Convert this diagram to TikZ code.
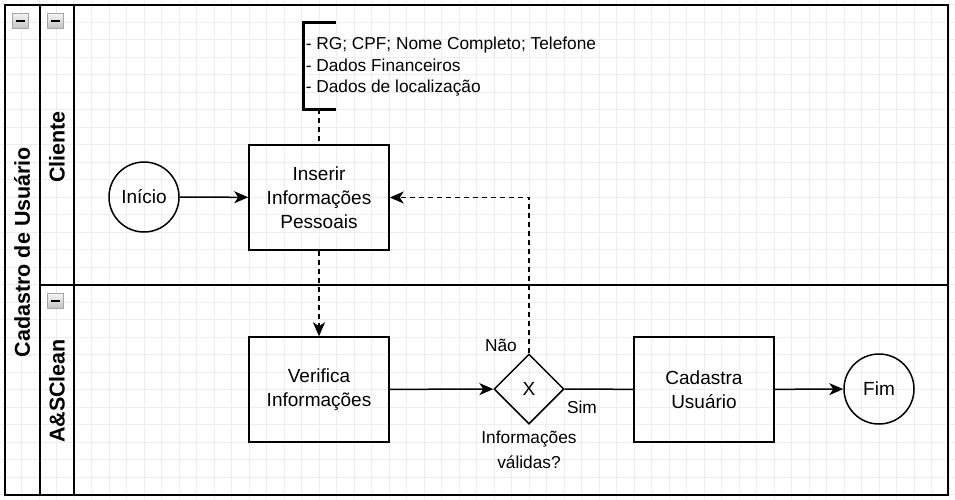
\documentclass[tikz,border=0pt]{standalone}
\usepackage{fontspec}
\setmainfont{Liberation Sans}
\usetikzlibrary{arrows.meta,shapes.geometric}
\newcommand{\collapsebox}[2]{%
  \draw[gray!70,line width=0.8pt,top color=gray!8,bottom color=gray!45]
    (#1-8,#2-7.5) rectangle (#1+8,#2+7.5);
  \draw[line width=2pt] (#1-4.5,#2)--(#1+4.5,#2);}

\begin{document}
\begin{tikzpicture}[x=1pt,y=-1pt,line width=1.5pt,
  every node/.style={font=\fontsize{19}{24}\selectfont},
  task/.style={draw,minimum width=140pt,minimum height=105pt,align=center},
  event/.style={draw,circle,minimum size=70pt,inner sep=0pt},
  gate/.style={draw,diamond,minimum size=70pt,inner sep=0pt},
  flow/.style={-{Stealth[length=14pt,width=12pt,inset=4pt]}},
  msg/.style={flow,dash pattern=on 5pt off 4pt},
  lanelabel/.style={rotate=90,font=\bfseries\fontsize{21.5}{24}\selectfont},
  small/.style={font=\fontsize{17.3}{24.5}\selectfont}]
\useasboundingbox (0,0) rectangle (955,499);
\fill[white] (0,0) rectangle (955,499);
% grid
\foreach \x in {4,21.5,...,955} \draw[gray!13,line width=0.6pt] (\x,0)--(\x,499);
\foreach \y in {4.5,22,...,499} \draw[gray!13,line width=0.6pt] (0,\y)--(955,\y);
% pool and lanes
\draw (5,5) rectangle (948,495);
\draw (40,5)--(40,495) (74,5)--(74,495) (40,285)--(948,285);
\collapsebox{20}{20.5}
\collapsebox{55}{20.5}
\collapsebox{55}{300.5}
\node[lanelabel] (pool) at (22,252) {Cadastro de Usuário};
\node[lanelabel] (cliente) at (57,147) {Cliente};
\node[lanelabel] (asclean) at (57,391) {A\&SClean};
% elements
\node[event] (inicio) at (144,197) {Início};
\node[task] (inserir) at (319,197.5) {Inserir\\Informações\\Pessoais};
\node[task] (verifica) at (319,389.5) {Verifica\\Informações};
\node[gate] (gw) at (529,389) {X};
\node[task] (cadastra) at (704,389.5) {Cadastra\\Usuário};
\node[event] (fim) at (879,389) {Fim};
% annotation
\draw[line width=3pt] (336,22)--(303,22)--(303,109)--(336,109);
\coordinate (ann) at (319,109);
\node[anchor=west,align=left,inner sep=2pt,font=\fontsize{17.3}{21.5}\selectfont] (dados) at (303,67)
  {- RG; CPF; Nome Completo; Telefone\\- Dados Financeiros\\- Dados de localização};
\node[small] (nao) at (501,345) {Não};
\node[small] (sim) at (582,407) {Sim};
\node[small,align=center] (valida) at (529,450) {Informações\\válidas?};
% connectors
\draw[dash pattern=on 5pt off 4pt] (ann) -- (inserir);
\draw[flow] (inicio) -- (inserir);
\draw[msg] (inserir) -- (verifica);
\draw[flow] (verifica) -- (gw);
\draw (gw) -- (cadastra);
\draw[flow] (cadastra) -- (fim);
\draw[msg] (gw.north) |- (inserir.east);
\end{tikzpicture}
\end{document}
